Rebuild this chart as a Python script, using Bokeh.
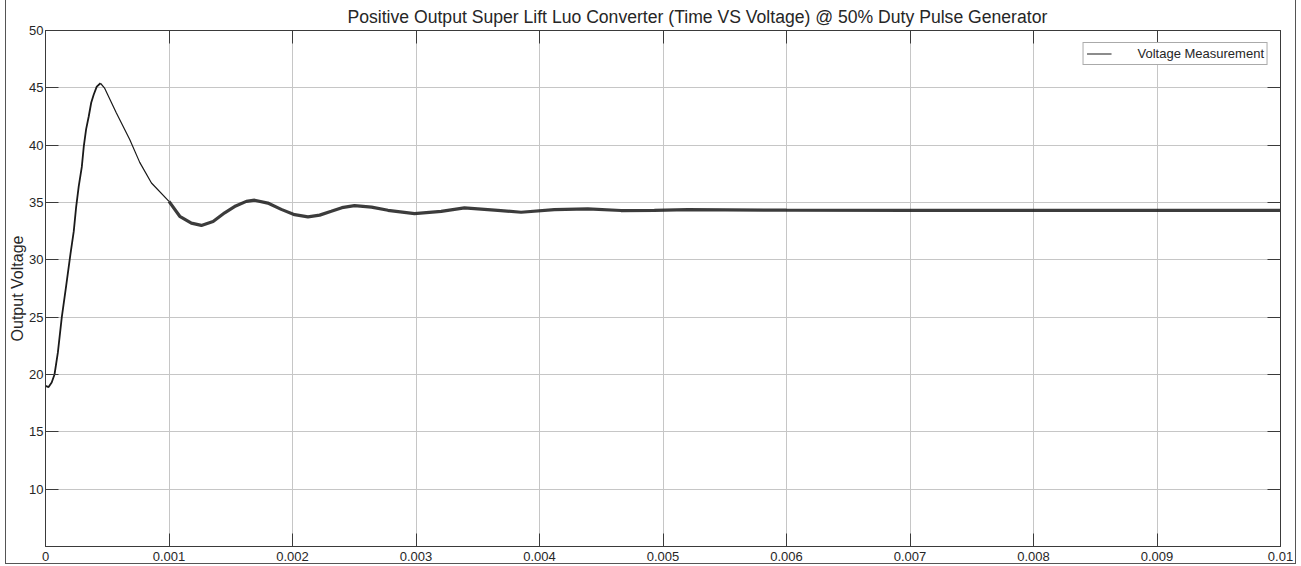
from bokeh.plotting import figure
from bokeh.models import Range1d, FixedTicker, LinearAxis, Legend, LegendItem
from bokeh.embed import file_html
from bokeh.resources import INLINE

# ---- data ----
time_s = [0.0, 0.000025, 0.00005, 0.000073, 0.0001, 0.000132, 0.000167, 0.000202,
          0.000229, 0.000248, 0.000269, 0.000294, 0.00031, 0.000329, 0.00035,
          0.00037, 0.00039, 0.000415, 0.000445,
          0.000477, 0.000574, 0.000682, 0.000763, 0.000858, 0.001,
          0.001087, 0.001181, 0.001262, 0.001357, 0.001451, 0.00154, 0.001626,
          0.001693, 0.0018, 0.001909, 0.002017, 0.002125, 0.00222, 0.002314,
          0.0024, 0.002502, 0.00264, 0.002773, 0.002988, 0.003204, 0.003392,
          0.003662, 0.003851, 0.00412, 0.004391, 0.00466, 0.00493, 0.0052,
          0.006, 0.007, 0.008, 0.009, 0.01]
voltage = [19.0, 18.9, 19.3, 20.0, 21.9, 25.0, 27.7, 30.5,
           32.5, 34.6, 36.4, 38.1, 39.9, 41.4, 42.5,
           43.7, 44.4, 45.1, 45.4,
           45.0, 42.8, 40.5, 38.5, 36.7, 35.1,
           33.8, 33.2, 33.0, 33.35, 34.1, 34.7, 35.1,
           35.2, 34.95, 34.4, 33.94, 33.74, 33.9, 34.23,
           34.55, 34.73, 34.6, 34.32, 34.03, 34.23, 34.53,
           34.32, 34.15, 34.38, 34.44, 34.3, 34.32, 34.38,
           34.33, 34.32, 34.32, 34.32, 34.32]
peak_index = 18      # end of the rising part
ripple_index = 24    # switching ripple becomes visible from here

x_ticks = [0, 0.001, 0.002, 0.003, 0.004, 0.005, 0.006, 0.007, 0.008, 0.009, 0.01]
x_tick_labels = ["0", "0.001", "0.002", "0.003", "0.004", "0.005", "0.006",
                 "0.007", "0.008", "0.009", "0.01"]
y_ticks = [10, 15, 20, 25, 30, 35, 40, 45, 50]

title_text = "Positive Output Super Lift Luo Converter (Time VS Voltage) @ 50% Duty Pulse Generator"
series_name = "Voltage Measurement"

FONT = "Liberation Sans"
AX = "#3a3a3a"
TXT = "#262626"

p = figure(width=1291, height=565, output_backend="svg", toolbar_location=None,
           x_range=Range1d(0, 0.01), y_range=Range1d(5, 50),
           min_border_left=38, min_border_right=17, min_border_top=25,
           min_border_bottom=19, title=title_text)
p.styles = {"border": "1px solid #555", "margin-left": "5px", "margin-top": "-1px"}

p.title.text_font = FONT
p.title.text_font_size = "17.6px"
p.title.text_font_style = "normal"
p.title.text_color = TXT
p.title.align = "left"
p.title.offset = 302
p.title.standoff = 8

p.outline_line_color = AX
p.background_fill_color = "white"
p.border_fill_color = "white"

for ax in [p.xaxis[0], p.yaxis[0]]:
    ax.major_tick_in = 13
    ax.major_tick_out = 0
    ax.minor_tick_line_color = None
    ax.axis_line_color = AX
    ax.major_tick_line_color = AX
    ax.major_label_text_font = FONT
    ax.major_label_text_font_size = "13px"
    ax.major_label_text_color = TXT
    ax.major_label_standoff = 3

p.xaxis.ticker = FixedTicker(ticks=x_ticks)
p.xaxis.major_label_overrides = {t: l for t, l in zip(x_ticks, x_tick_labels)}
p.xaxis.major_label_standoff = 5
p.yaxis.ticker = FixedTicker(ticks=y_ticks)
p.yaxis.major_label_standoff = 2
p.yaxis.axis_label = "Output Voltage"
p.yaxis.axis_label_text_font = FONT
p.yaxis.axis_label_text_font_size = "16px"
p.yaxis.axis_label_text_font_style = "normal"
p.yaxis.axis_label_text_color = TXT
p.yaxis.axis_label_standoff = 0

top = LinearAxis(ticker=FixedTicker(ticks=x_ticks), major_label_text_font_size="0px",
                 major_label_text_alpha=0, major_tick_in=13, major_tick_out=0,
                 minor_tick_line_color=None, axis_line_color=AX,
                 major_tick_line_color=AX, major_label_standoff=0)
right = LinearAxis(ticker=FixedTicker(ticks=y_ticks), major_label_text_font_size="0px",
                   major_label_text_alpha=0, major_tick_in=13, major_tick_out=0,
                   minor_tick_line_color=None, axis_line_color=AX,
                   major_tick_line_color=AX, major_label_standoff=0)
p.add_layout(top, "above")
p.add_layout(right, "right")

p.xgrid.ticker = FixedTicker(ticks=x_ticks)
p.ygrid.ticker = FixedTicker(ticks=y_ticks)
p.grid.grid_line_color = "#c6c6c6"
p.grid.grid_line_width = 1

LINE = "#1a1a1a"
r_rise = p.line(time_s[:peak_index + 1], voltage[:peak_index + 1],
                line_color=LINE, line_width=1.8)
r_decay = p.line(time_s[peak_index:ripple_index + 1], voltage[peak_index:ripple_index + 1],
                 line_color=LINE, line_width=1.2)
r_ripple = p.line(time_s[ripple_index:], voltage[ripple_index:],
                  line_color=LINE, line_width=3.2, line_alpha=0.85)

legend = Legend(items=[LegendItem(label=series_name, renderers=[r_decay])],
                location="top_right")
legend.border_line_color = "#555555"
legend.border_line_width = 1
legend.background_fill_color = "white"
legend.background_fill_alpha = 1
legend.label_text_font = FONT
legend.label_text_font_size = "13px"
legend.label_text_color = TXT
legend.padding = 3
legend.margin = 12
legend.glyph_width = 25
legend.glyph_height = 15
legend.label_height = 15
legend.label_standoff = 26
legend.spacing = 0
p.add_layout(legend)

open("out.html", "w").write(file_html(p, INLINE))
